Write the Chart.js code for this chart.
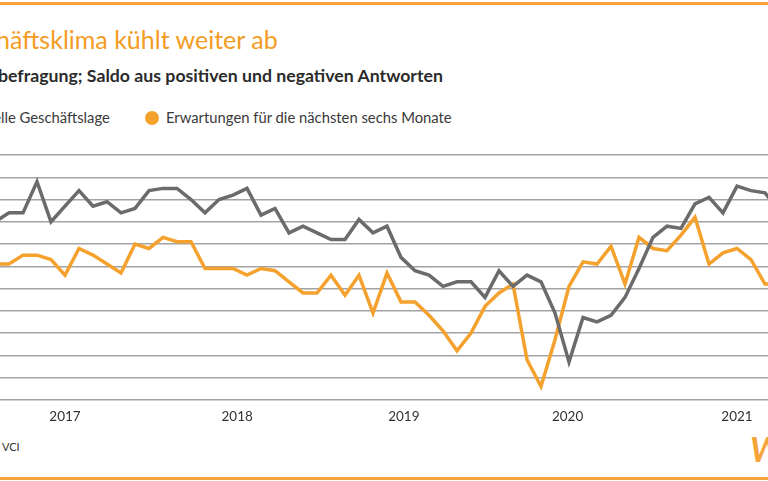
<!DOCTYPE html>
<html lang="de">
<head>
<meta charset="utf-8">
<script src="https://cdn.jsdelivr.net/npm/chart.js@4/dist/chart.umd.min.js"></script>
<style>
  html, body { margin: 0; padding: 0; }
  body { width: 768px; height: 481px; overflow: hidden; position: relative; background: #fff; font-family: Lato, "Open Sans", sans-serif; }
  .rule { position: absolute; left: 0; width: 768px; height: 3px; background: #f5a43a; }
  .txt { position: absolute; white-space: nowrap; }
  #title { top: 24px; font-size: 25px; color: #f39c23; }
  #subtitle { top: 65px; font-size: 17.7px; font-weight: bold; color: #2b2b2b; }
  .leg { top: 108px; font-size: 14.8px; color: #3a3a3a; }
  .dot { display: inline-block; width: 14px; height: 14px; border-radius: 50%; vertical-align: -2px; margin-right: 7px; }
  #source { top: 440px; font-size: 11px; color: #333; }
  #logo { left: 750px; top: 428px; font-size: 34px; font-weight: bold; font-style: italic; color: #f5a43a; }
  #chart { position: absolute; left: 0; top: 150px; }
</style>
</head>
<body>
<div class="rule" style="top:2px"></div>
<div class="rule" style="top:477px"></div>

<div id="title" class="txt" data-x="10"><span class="cut">Gesch</span>äftsklima kühlt weiter ab</div>
<div id="subtitle" class="txt" data-x="-2"><span class="cut">ifo-Konjunktur</span>befragung; Saldo aus positiven und negativen Antworten</div>
<div id="leg1" class="txt leg" data-x="1"><span class="cut"><span class="dot" style="background:#6b6b6b"></span>Aktue</span>lle Geschäftslage</div>
<div id="leg2" class="txt leg" style="left:145px"><span class="dot" style="background:#f5a12e"></span>Erwartungen für die nächsten sechs Monate</div>
<div id="source" class="txt" data-x="2"><span class="cut">Quelle: ifo, </span>VCI</div>
<div id="logo" class="txt">W</div>

<canvas id="chart" width="768" height="276"></canvas>

<script>
// monthly values, Jan 2017 .. Sep 2021 (x = month index - 1)
const lage = [30, 34, 34, 48, 30, 37, 44, 37, 39, 34, 36, 44, 45, 45, 40, 34, 40, 42, 45,
  33, 36, 25, 28, 25, 22, 22, 31, 25, 28, 14, 8, 6, 1, 3, 3, -4, 8, 1, 6, 3, -11, -33,
  -13, -15, -12, -4, 9, 23, 28, 27, 38, 41, 34, 46, 44, 43, 35];
const erwartungen = [11, 11, 15, 15, 13, 6, 18, 15, 11, 7, 20, 18, 23, 21, 21, 9, 9, 9, 6,
  9, 8, 3, -2, -2, 6, -3, 6, -11, 7, -6, -6, -12, -19, -28, -20, -8, -2, 2, -32, -44,
  -23, 1, 12, 11, 19, 2, 23, 18, 17, 24, 32, 11, 16, 18, 13, 2, 2];
const yearLabels = ['2017', '2018', '2019', '2020', '2021'];
const yearTickPos = [4, 16.3, 28.2, 39.9, 52];

// position the partly cut-off texts
document.querySelectorAll('[data-x]').forEach(el => {
    const cut = el.querySelector('.cut');
    el.style.left = (Number(el.dataset.x) - cut.getBoundingClientRect().width) + 'px';
});

const toPoints = arr => arr.map((v, i) => ({ x: i - 1, y: v }));

new Chart(document.getElementById('chart'), {
    type: 'line',
    data: {
        datasets: [{
            label: 'Aktuelle Geschäftslage',
            data: toPoints(lage),
            borderColor: '#6b6b6b',
            borderWidth: 3.5
        }, {
            label: 'Erwartungen für die nächsten sechs Monate',
            data: toPoints(erwartungen),
            borderColor: '#f5a12e',
            borderWidth: 3.5
        }]
    },
    options: {
        responsive: false,
        animation: false,
        layout: { padding: { top: 5, left: 0, right: 0, bottom: 0 } },
        elements: { point: { radius: 0 }, line: { tension: 0, borderJoinStyle: 'miter' } },
        plugins: { legend: { display: false }, tooltip: { enabled: false } },
        scales: {
            x: {
                type: 'linear',
                min: -0.643,
                max: 54.214,
                grid: { display: false },
                border: { display: false },
                afterBuildTicks: axis => { axis.ticks = yearTickPos.map(v => ({ value: v })); },
                ticks: {
                    autoSkip: false,
                    maxRotation: 0,
                    padding: 1,
                    color: '#333',
                    font: { family: 'Lato', size: 13.5 },
                    callback: v => yearLabels[yearTickPos.indexOf(v)]
                }
            },
            y: {
                min: -50,
                max: 60,
                ticks: { display: false, stepSize: 10 },
                grid: { color: '#a3a3a3', lineWidth: 1.5, drawTicks: false },
                border: { display: false }
            }
        }
    }
});
</script>
</body>
</html>
